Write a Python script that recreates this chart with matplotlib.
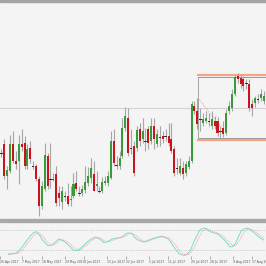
import numpy as np
import matplotlib
matplotlib.use('Agg')
import matplotlib.pyplot as plt

# Daily candles (price in chart units)
opens = [68, 77, 45, 50, 77, 60, 60, 77, 78, 55, 73, 55, 55, 42, 15, 32, 65, 42, 42, 47,
         28, 19, 25, 25, 21, 25, 38, 28, 28, 31, 38, 43, 47, 35, 30, 30, 38, 38, 43, 80,
         56, 55, 65, 93, 103, 73, 75, 73, 92, 82, 80, 92, 80, 95, 77, 84, 85, 85, 85, 82,
         72, 53, 48, 53, 48, 54, 60, 115, 110, 102, 98, 100, 100, 95, 100, 100, 90, 93, 88, 110,
         113, 127, 145, 143, 142, 138, 137, 117, 118, 122, 123, 120]
highs = [72, 82, 55, 86, 90, 70, 86, 92, 85, 77, 80, 60, 57, 45, 40, 78, 68, 78, 48, 55,
         35, 35, 30, 38, 35, 48, 50, 35, 36, 55, 54, 63, 60, 50, 35, 44, 45, 50, 90, 92,
         65, 70, 103, 114, 113, 92, 80, 95, 98, 103, 93, 95, 103, 103, 92, 95, 90, 92, 98, 98,
         75, 63, 63, 60, 60, 65, 120, 120, 123, 113, 108, 110, 108, 110, 105, 104, 95, 100, 112, 120,
         132, 146, 148, 147, 145, 142, 142, 122, 125, 127, 132, 130]
lows = [64, 42, 32, 48, 58, 52, 37, 70, 52, 52, 58, 52, 40, 5, 12, 30, 32, 33, 40, 15,
        15, 12, 20, 15, 15, 23, 30, 25, 25, 28, 35, 38, 30, 30, 28, 28, 36, 35, 42, 55,
        52, 52, 63, 90, 65, 67, 45, 70, 75, 78, 70, 72, 77, 72, 74, 75, 78, 80, 75, 68,
        45, 47, 46, 42, 45, 52, 58, 107, 92, 90, 95, 98, 95, 92, 92, 85, 83, 84, 86, 107,
        110, 125, 138, 133, 130, 132, 110, 105, 114, 118, 120, 117]
closes = [68, 45, 51, 77, 60, 57, 77, 74, 55, 72, 62, 55, 42, 15, 35, 66, 35, 42, 41, 18,
          23, 30, 25, 17, 22, 37, 32, 28, 32, 39, 45, 53, 30, 37, 30, 39, 40, 45, 80, 58,
          56, 63, 93, 105, 68, 73, 48, 91, 80, 90, 80, 78, 95, 82, 87, 84, 82, 85, 78, 70,
          48, 53, 55, 47, 57, 60, 117, 110, 97, 102, 102, 103, 100, 102, 95, 88, 90, 87, 108, 115,
          127, 144, 142, 137, 135, 138, 113, 113, 123, 122, 127, 125]

# Stochastic oscillator
stoch_main = [7, 8, 10, 11, 20, 30, 42, 53, 64, 72, 75, 66, 52, 42, 33, 33, 38, 46, 53, 50,
              45, 38, 30, 20, 18, 20, 27, 35, 43, 50, 55, 59, 56, 50, 42, 44, 48, 53, 55, 56,
              58, 62, 70, 71, 70, 58, 51, 47, 44, 46, 50, 53, 56, 58, 61, 60, 57, 53, 42, 29,
              18, 8, 5, 4, 10, 21, 42, 60, 77, 84, 86, 80, 75, 72, 70, 66, 58, 50, 40, 29,
              30, 40, 60, 77, 83, 86, 82, 76, 69, 61, 55, 50]
stoch_signal = [9, 8, 9, 10, 13, 20, 31, 42, 53, 63, 70, 71, 64, 53, 42, 36, 35, 39, 46, 50,
                49, 44, 38, 29, 23, 19, 22, 29, 35, 43, 50, 55, 57, 55, 49, 45, 45, 48, 52, 55,
                57, 59, 63, 68, 70, 66, 60, 52, 47, 45, 47, 50, 53, 56, 58, 60, 59, 57, 51, 41,
                30, 18, 10, 6, 6, 12, 24, 41, 60, 74, 82, 83, 80, 76, 72, 69, 65, 58, 49, 40,
                33, 33, 43, 59, 73, 82, 84, 81, 76, 69, 62, 55]

# Date labels and the bar they sit on
date_bars = [-3, 5, 12, 20, 27, 35, 42, 50, 57, 65, 72, 80, 87]
date_labels = ['26 Apr 2017', '7 May 2017', '18 May 2017', '29 May 2017', '4 Jun 2017',
               '13 Jun 2017', '22 Jun 2017', '2 Jul 2017', '11 Jul 2017', '20 Jul 2017',
               '28 Jul 2017', '9 Aug 2017', '17 Aug 2017']

# Drawing objects
level_price = 113
box_start, box_low, box_high = 68.2, 83, 144.5
trend_x = [68.2, 77.3]
trend_y = [123, 90]

bg = '#f4f4f4'
up_col = '#3a9a3a'
dn_col = '#c8141c'
wick_col = '#a6a6a6'

o = np.array(opens, float)
h = np.array(highs, float)
l = np.array(lows, float)
c = np.array(closes, float)
x = np.arange(len(o))

fig = plt.figure(figsize=(2.66, 2.66), dpi=100, facecolor=bg)
W = 266.0
ax = fig.add_axes([0, 1 - 219 / W, 1, 217 / W], facecolor=bg)
ax2 = fig.add_axes([0, 1 - 256 / W, 1, 34 / W], facecolor=bg)

# top border and panel separator
fig.patches.append(plt.Rectangle((0, 1 - 2 / W), 1, 2 / W, transform=fig.transFigure,
                                 color='#a3a3a3', zorder=0))
fig.patches.append(plt.Rectangle((0, 1 - 222 / W), 1, 3 / W, transform=fig.transFigure,
                                 color='#a9a9a9', zorder=0))

# horizontal level
ax.axhline(level_price, color='#d2d2d2', lw=0.8, zorder=1)

# box with salmon borders
ax.plot([box_start, 200], [box_high, box_high], color='#8a8a8a', lw=0.6, zorder=2)
ax.plot([box_start, 200], [box_low, box_low], color='#8a8a8a', lw=0.6, zorder=2)
ax.plot([box_start, box_start], [box_low, box_high], color='#9a9a9a', lw=0.6, zorder=2)
ax.plot([box_start, 200], [box_high + 1.6, box_high + 1.6], color='#f5a585', lw=1.6, zorder=2)
ax.plot([box_start, 200], [box_low - 1.6, box_low - 1.6], color='#f5a585', lw=1.6, zorder=2)

# dotted trendline
ax.plot(trend_x, trend_y, color='#f19a9a', lw=0.7, ls=(0, (1, 1.2)), zorder=2)

# candles
ax.vlines(x, l, h, color=wick_col, lw=0.8, zorder=3)
up = c > o
dn = c < o
eq = c == o
ax.bar(x[up], (c - o)[up], bottom=o[up], width=0.72, color=up_col, lw=0, zorder=4)
ax.bar(x[dn], (o - c)[dn], bottom=c[dn], width=0.72, color=dn_col, lw=0, zorder=4)
ax.bar(x[eq], 1.0, bottom=o[eq] - 0.5, width=0.9, color='#333333', lw=0, zorder=4)

ax.set_xlim(-0.52, 91.84)
ax.set_ylim(2, 219)
ax.axis('off')

# stochastic panel
ax2.axhline(80, color='#b0b0b0', lw=0.5, ls=(0, (1, 1.5)))
ax2.axhline(20, color='#b0b0b0', lw=0.5, ls=(0, (1, 1.5)))
ax2.plot(x, stoch_main, color='#7adcd0', lw=0.7)
ax2.plot(x, stoch_signal, color='#f3a0a0', lw=0.7, ls=(0, (1, 1)))
ax2.set_xlim(-0.52, 91.84)
ax2.set_ylim(2, 104)
for s in ax2.spines.values():
    s.set_visible(False)
ax2.set_yticks([])
ax2.set_xticks(date_bars)
ax2.set_xticklabels(date_labels, fontsize=2.2, color='#555555', ha='left')
ax2.tick_params(axis='x', length=2, width=0.4, color='#777777', pad=0.6)

plt.savefig('out.png', dpi=100, facecolor=bg)
